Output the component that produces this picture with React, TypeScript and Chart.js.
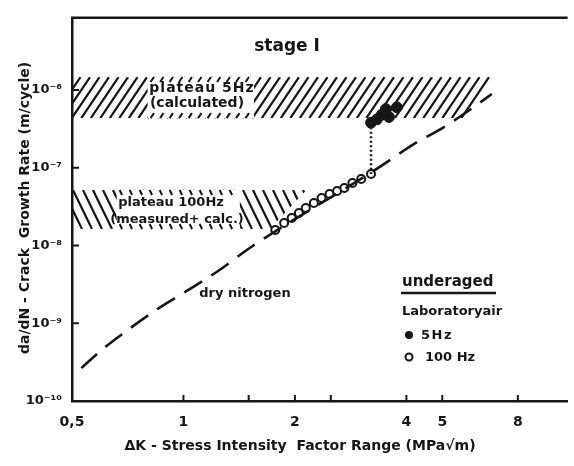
import React, { useEffect, useRef } from "react";
import { Chart, registerables } from "chart.js";

Chart.register(...registerables);

// ---- data ----
const xTickValues = [0.5, 1, 1.5, 2, 2.5, 4, 5, 8];
const xTickLabels = ["0,5", "1", "", "2", "", "4", "5", "8"];
const yTickValues = [1e-10, 1e-9, 1e-8, 1e-7, 1e-6];
const yTickLabels = ["10⁻¹⁰", "10⁻⁹", "10⁻⁸", "10⁻⁷", "10⁻⁶"];

const k100Hz = [1.77, 1.87, 1.96, 2.05, 2.14, 2.25, 2.36, 2.48, 2.6, 2.72, 2.86, 3.02, 3.21];
const rate100Hz = [1.58e-8, 1.95e-8, 2.26e-8, 2.62e-8, 3.03e-8, 3.52e-8, 4.08e-8, 4.6e-8, 5.02e-8, 5.5e-8, 6.37e-8, 7.17e-8, 8.3e-8];

const k5Hz = [3.21, 3.33, 3.43, 3.52, 3.59, 3.77];
const rate5Hz = [3.8e-7, 4.2e-7, 4.8e-7, 5.7e-7, 4.5e-7, 6.0e-7];

const kLink = [3.21, 3.21];
const rateLink = [3.8e-7, 8.3e-8];

const kN2 = [0.53, 0.6, 0.7, 0.85, 1.05, 1.24, 1.51, 3.35, 4.24, 5.0, 6.13, 6.8];
const rateN2 = [2.65e-10, 4.5e-10, 7.9e-10, 1.52e-9, 2.84e-9, 4.7e-9, 9.3e-9, 9.9e-8, 2.09e-7, 3.24e-7, 6.2e-7, 8.9e-7];

// plateau bands: K at left, right-top, right-bottom; rate at top, bottom; label gap K range
const plateau5HzK = [0.5, 6.8, 5.8];
const plateau5HzRate = [1.47e-6, 4.36e-7];
const plateau5HzGapK = [0.8, 1.55];
const plateau100HzK = [0.5, 2.15, 1.71];
const plateau100HzRate = [5.18e-8, 1.63e-8];
const plateau100HzGapK = [0.66, 1.42];

const INK = "#161616";
const FONT = '"DejaVu Sans", sans-serif';

const pts = (xs: number[], ys: number[]) => xs.map((x, i) => ({ x, y: ys[i] }));

function drawBand(
  ctx: CanvasRenderingContext2D,
  xs: any,
  ys: any,
  kArr: number[],
  rArr: number[],
  gap: number[],
  dir: number,
  angleDeg: number,
  spacing: number
) {
  const xL = xs.getPixelForValue(kArr[0]);
  const xRT = xs.getPixelForValue(kArr[1]);
  const xRB = xs.getPixelForValue(kArr[2]);
  const yT = ys.getPixelForValue(rArr[0]);
  const yB = ys.getPixelForValue(rArr[1]);
  const gL = xs.getPixelForValue(gap[0]);
  const gR = xs.getPixelForValue(gap[1]);
  const h = yB - yT;
  const run = h / Math.tan((angleDeg * Math.PI) / 180);
  ctx.save();
  ctx.beginPath();
  ctx.moveTo(xL, yT);
  ctx.lineTo(xRT, yT);
  ctx.lineTo(xRB, yB);
  ctx.lineTo(xL, yB);
  ctx.closePath();
  ctx.rect(gL, yT - 2, gR - gL, h + 4);
  ctx.clip("evenodd");
  ctx.strokeStyle = INK;
  ctx.lineWidth = 2.2;
  ctx.lineCap = "butt";
  ctx.beginPath();
  for (let x = xL - run - 20; x < Math.max(xRT, xRB) + run + 20; x += spacing) {
    if (dir > 0) {
      ctx.moveTo(x, yB);
      ctx.lineTo(x + run, yT);
    } else {
      ctx.moveTo(x, yT);
      ctx.lineTo(x + run, yB);
    }
  }
  ctx.stroke();
  ctx.restore();
  // dotted edges where the label interrupts the hatching
  ctx.save();
  ctx.strokeStyle = INK;
  ctx.lineWidth = 2;
  ctx.beginPath();
  const m = 5 / Math.tan((angleDeg * Math.PI) / 180);
  for (let x = gL + 3; x < gR - 3; x += spacing) {
    if (dir > 0) {
      ctx.moveTo(x, yT + 5);
      ctx.lineTo(x + m, yT);
      ctx.moveTo(x, yB);
      ctx.lineTo(x + m, yB - 5);
    } else {
      ctx.moveTo(x, yT);
      ctx.lineTo(x + m, yT + 5);
      ctx.moveTo(x, yB - 5);
      ctx.lineTo(x + m, yB);
    }
  }
  ctx.stroke();
  ctx.restore();
}

const decorPlugin = {
  id: "decor",
  beforeDraw(chart: any) {
    const { ctx, width, height } = chart;
    ctx.save();
    ctx.fillStyle = "#ffffff";
    ctx.fillRect(0, 0, width, height);
    ctx.restore();
  },
  beforeDatasetsDraw(chart: any) {
    const { ctx } = chart;
    const xs = chart.scales.x;
    const ys = chart.scales.y;
    drawBand(ctx, xs, ys, plateau5HzK, plateau5HzRate, plateau5HzGapK, 1, 56, 9.5);
    drawBand(ctx, xs, ys, plateau100HzK, plateau100HzRate, plateau100HzGapK, -1, 64, 10);
  },
  afterDatasetsDraw(chart: any) {
    const { ctx, chartArea } = chart;
    const xs = chart.scales.x;
    const ys = chart.scales.y;
    ctx.save();
    ctx.strokeStyle = INK;
    ctx.fillStyle = INK;
    // top frame
    ctx.lineWidth = 2.5;
    ctx.beginPath();
    ctx.moveTo(chartArea.left - 1, chartArea.top);
    ctx.lineTo(chartArea.right, chartArea.top);
    ctx.stroke();
    // inside tick marks
    ctx.lineWidth = 2;
    ctx.beginPath();
    yTickValues.forEach((v) => {
      const y = ys.getPixelForValue(v);
      if (v > yTickValues[0]) {
        ctx.moveTo(chartArea.left, y);
        ctx.lineTo(chartArea.left + 7, y);
      }
    });
    xTickValues.forEach((v) => {
      if (v > 0.5) {
        const x = xs.getPixelForValue(v);
        ctx.moveTo(x, chartArea.bottom);
        ctx.lineTo(x, chartArea.bottom - 6);
      }
    });
    ctx.stroke();

    ctx.textAlign = "center";
    ctx.textBaseline = "middle";
    // annotations
    ctx.font = `bold 17px ${FONT}`;
    ctx.fillText("stage I", 287, 47);
    ctx.font = `bold 14px ${FONT}`;
    (ctx as any).letterSpacing = "1px";
    ctx.fillText("plateau 5Hz", 202, 88);
    (ctx as any).letterSpacing = "0px";
    ctx.fillText("(calculated)", 197, 103);
    ctx.font = `bold 13px ${FONT}`;
    ctx.fillText("plateau 100Hz", 171, 203);
    ctx.fillText("(measured+ calc.)", 177, 220);
    ctx.fillText("dry nitrogen", 245, 294);

    // legend block
    ctx.textAlign = "left";
    ctx.font = `bold 15px ${FONT}`;
    ctx.fillText("underaged", 402, 282);
    ctx.lineWidth = 2.5;
    ctx.beginPath();
    ctx.moveTo(401, 293);
    ctx.lineTo(496, 293);
    ctx.stroke();
    ctx.font = `bold 13px ${FONT}`;
    ctx.fillText("Laboratoryair", 402, 312);
    ctx.beginPath();
    ctx.arc(409, 335, 4, 0, Math.PI * 2);
    ctx.fill();
    ctx.lineWidth = 2;
    ctx.beginPath();
    ctx.arc(409, 357, 3.5, 0, Math.PI * 2);
    ctx.stroke();
    ctx.font = `bold 13px ${FONT}`;
    (ctx as any).letterSpacing = "1.5px";
    ctx.fillText("5Hz", 421, 336);
    (ctx as any).letterSpacing = "0px";
    ctx.fillText("100 Hz", 425, 358);

    // axis titles
    ctx.textAlign = "center";
    ctx.font = `bold 14px ${FONT}`;
    ctx.fillText("ΔK - Stress Intensity  Factor Range (MPa√m)", 300, 446);
    ctx.translate(25, 208);
    ctx.rotate(-Math.PI / 2);
    ctx.fillText("da/dN - Crack  Growth Rate (m/cycle)", 0, 0);
    ctx.restore();
  },
};

export default function App() {
  const ref = useRef<HTMLCanvasElement>(null);
  useEffect(() => {
    if (!ref.current) return;
    const chart = new Chart(ref.current, {
      type: "scatter",
      data: {
        datasets: [
          {
            label: "dry nitrogen",
            data: pts(kN2, rateN2),
            showLine: true,
            borderColor: INK,
            borderWidth: 2.6,
            borderDash: [21, 11],
            pointRadius: 0,
            cubicInterpolationMode: "monotone",
            fill: false,
          },
          {
            label: "link",
            data: pts(kLink, rateLink),
            showLine: true,
            borderColor: INK,
            borderWidth: 2.5,
            borderDash: [2, 2.5],
            pointRadius: 0,
            fill: false,
          },
          {
            label: "100 Hz",
            data: pts(k100Hz, rate100Hz),
            showLine: false,
            pointStyle: "circle",
            pointRadius: 4,
            pointBorderWidth: 2,
            pointBorderColor: INK,
            pointBackgroundColor: "#ffffff",
          },
          {
            label: "5 Hz",
            data: pts(k5Hz, rate5Hz),
            showLine: false,
            pointStyle: "circle",
            pointRadius: 5.4,
            pointBorderWidth: 1,
            pointBorderColor: INK,
            pointBackgroundColor: INK,
          },
        ],
      },
      options: {
        animation: false,
        responsive: false,
        devicePixelRatio: 1,
        layout: { padding: { top: 17, right: 0, left: 0, bottom: 0 } },
        plugins: { legend: { display: false }, tooltip: { enabled: false } },
        scales: {
          x: {
            type: "logarithmic",
            min: 0.5,
            max: 10.9,
            afterBuildTicks: (s: any) => {
              s.ticks = xTickValues.map((v) => ({ value: v }));
            },
            afterFit: (s: any) => {
              s.height = 65;
            },
            ticks: {
              autoSkip: false,
              maxRotation: 0,
              padding: 13,
              color: INK,
              font: { family: FONT, size: 14, weight: "bold" },
              callback: (v: any) => {
                const i = xTickValues.indexOf(Number(v));
                return i >= 0 ? xTickLabels[i] : "";
              },
            },
            grid: { display: false, drawTicks: false },
            border: { display: true, color: INK, width: 2.5 },
          },
          y: {
            type: "logarithmic",
            min: 1e-10,
            max: 8.5e-6,
            afterBuildTicks: (s: any) => {
              s.ticks = yTickValues.map((v) => ({ value: v }));
            },
            afterFit: (s: any) => {
              s.width = 72;
            },
            ticks: {
              autoSkip: false,
              padding: 10,
              color: INK,
              font: { family: FONT, size: 13, weight: "bold" },
              callback: (v: any) => {
                const i = yTickValues.findIndex((t) => Math.abs(t - Number(v)) / t < 1e-6);
                return i >= 0 ? yTickLabels[i] : "";
              },
            },
            grid: { display: false, drawTicks: false },
            border: { display: true, color: INK, width: 2.5 },
          },
        },
      },
      plugins: [decorPlugin],
    } as any);
    return () => chart.destroy();
  }, []);
  return (
    <div style={{ position: "absolute", left: 0, top: 0, width: 574, height: 466, background: "#fff" }}>
      <canvas ref={ref} width={574} height={466} style={{ display: "block", width: 574, height: 466 }} />
    </div>
  );
}
